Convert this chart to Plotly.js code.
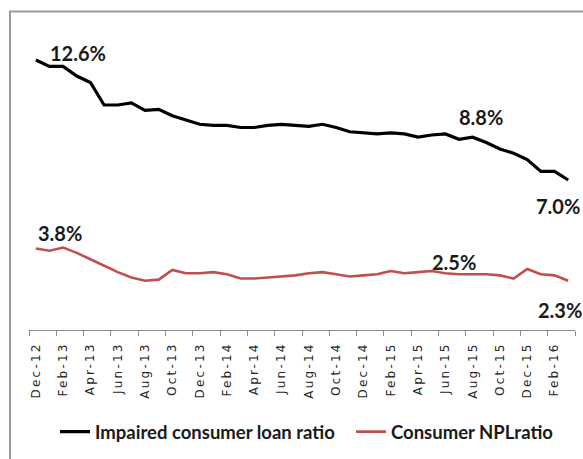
<!DOCTYPE html>
<html>
<head>
<meta charset="utf-8">
<script src="https://cdn.plot.ly/plotly-3.0.1.min.js"></script>
<style>
  html, body { margin: 0; padding: 0; background: #fff; }
  #chart { width: 583px; height: 459px; }
  .x2tick text { letter-spacing: 2.2px; }
</style>
</head>
<body>
<div id="chart"></div>
<script>
const months = ['Dec-12','Jan-13','Feb-13','Mar-13','Apr-13','May-13','Jun-13','Jul-13','Aug-13','Sep-13',
  'Oct-13','Nov-13','Dec-13','Jan-14','Feb-14','Mar-14','Apr-14','May-14','Jun-14','Jul-14',
  'Aug-14','Sep-14','Oct-14','Nov-14','Dec-14','Jan-15','Feb-15','Mar-15','Apr-15','May-15',
  'Jun-15','Jul-15','Aug-15','Sep-15','Oct-15','Nov-15','Dec-15','Jan-16','Feb-16','Mar-16'];

const impaired = [12.6, 12.3, 12.3, 11.85, 11.55, 10.5, 10.5, 10.6, 10.25, 10.3,
  10.0, 9.8, 9.6, 9.55, 9.55, 9.45, 9.45, 9.55, 9.6, 9.55,
  9.5, 9.6, 9.45, 9.25, 9.2, 9.15, 9.2, 9.15, 9.0, 9.1,
  9.15, 8.9, 9.0, 8.75, 8.45, 8.25, 7.95, 7.4, 7.4, 7.0];

const npl = [3.8, 3.7, 3.85, 3.6, 3.3, 3.0, 2.7, 2.45, 2.3, 2.35,
  2.8, 2.65, 2.65, 2.7, 2.6, 2.4, 2.4, 2.45, 2.5, 2.55,
  2.65, 2.7, 2.6, 2.5, 2.55, 2.6, 2.75, 2.65, 2.7, 2.75,
  2.65, 2.6, 2.6, 2.6, 2.55, 2.4, 2.85, 2.6, 2.55, 2.3];

const seriesNames = ['Impaired consumer loan ratio', 'Consumer NPLratio'];

const idx = months.map((_, i) => i);
const labelIdx = idx.filter(i => i % 2 === 0);
const boundaries = labelIdx.map(i => i - 0.5).concat([months.length - 0.5]);

const traces = [
  { x: idx, y: impaired, type: 'scatter', mode: 'lines', name: seriesNames[0], legend: 'legend',
    line: { color: '#000000', width: 3.2 }, hoverinfo: 'skip' },
  { x: idx, y: npl, type: 'scatter', mode: 'lines', name: seriesNames[1], legend: 'legend2',
    line: { color: '#c0504d', width: 2.6 }, hoverinfo: 'skip' },
  { x: [0], y: [0], xaxis: 'x2', type: 'scatter', mode: 'markers', showlegend: false,
    marker: { opacity: 0 }, hoverinfo: 'skip' }
];

const lblFont = { family: 'Lato, "Open Sans", sans-serif', size: 20, color: '#1a1a1a', weight: 'bold' };
function lbl(text, i, series, xs, ys) {
  return { text: text, x: i, y: series[i], xref: 'x', yref: 'y', showarrow: false,
    xshift: xs, yshift: ys, font: lblFont };
}
const last = months.length - 1;

const W = 546, H = 299.6;
const legFont = { family: 'Lato, "Open Sans", sans-serif', size: 18.5, color: '#1a1a1a', weight: 'bold' };
const layout = {
  width: 583, height: 459,
  margin: { l: 29, r: 8, t: 30.4, b: 128.6 },
  paper_bgcolor: '#ffffff', plot_bgcolor: '#ffffff',
  showlegend: true,
  xaxis: {
    range: [-0.5, months.length - 0.5], showgrid: false, zeroline: false,
    showline: true, linecolor: '#8c8c8c', linewidth: 1,
    tickmode: 'array', tickvals: boundaries, ticktext: boundaries.map(() => ''),
    ticks: 'outside', ticklen: 5, tickcolor: '#8c8c8c', tickwidth: 1, fixedrange: true
  },
  xaxis2: {
    overlaying: 'x', anchor: 'y', side: 'bottom',
    range: [-0.5, months.length - 0.5], showgrid: false, zeroline: false, showline: false,
    tickmode: 'array', tickvals: labelIdx, ticktext: labelIdx.map(i => months[i]),
    ticks: '', tickangle: -90, ticklabelstandoff: 9,
    tickfont: { family: '"DejaVu Sans", sans-serif', size: 12, color: '#262626' }, fixedrange: true
  },
  yaxis: {
    range: [0, 14], showgrid: false, zeroline: false, showline: false,
    showticklabels: false, ticks: '', fixedrange: true
  },
  legend: {
    orientation: 'h', x: (55 - 29) / W, xanchor: 'left', y: (330 - 432) / H, yanchor: 'middle',
    font: legFont, itemwidth: 30, bgcolor: 'rgba(0,0,0,0)'
  },
  legend2: {
    orientation: 'h', x: (351 - 29) / W, xanchor: 'left', y: (330 - 432) / H, yanchor: 'middle',
    font: legFont, itemwidth: 30, bgcolor: 'rgba(0,0,0,0)'
  },
  annotations: [
    lbl('12.6%', 0, impaired, 42, 7),
    lbl('8.8%', 33, impaired, -5, 26),
    lbl('7.0%', last, impaired, -10, -26),
    lbl('3.8%', 0, npl, 24, 16),
    lbl('2.5%', 29, npl, 22, 9),
    lbl('2.3%', last, npl, -8, -29)
  ],
  shapes: [
    { type: 'rect', xref: 'paper', yref: 'paper',
      x0: (10 - 29) / W, x1: (620 - 29) / W, y0: (330 - 500) / H, y1: (330 - 12) / H,
      line: { color: '#9a9a9a', width: 2 }, fillcolor: 'rgba(0,0,0,0)', layer: 'below' }
  ]
};

Plotly.newPlot('chart', traces, layout, { displayModeBar: false, staticPlot: true });
</script>
</body>
</html>
